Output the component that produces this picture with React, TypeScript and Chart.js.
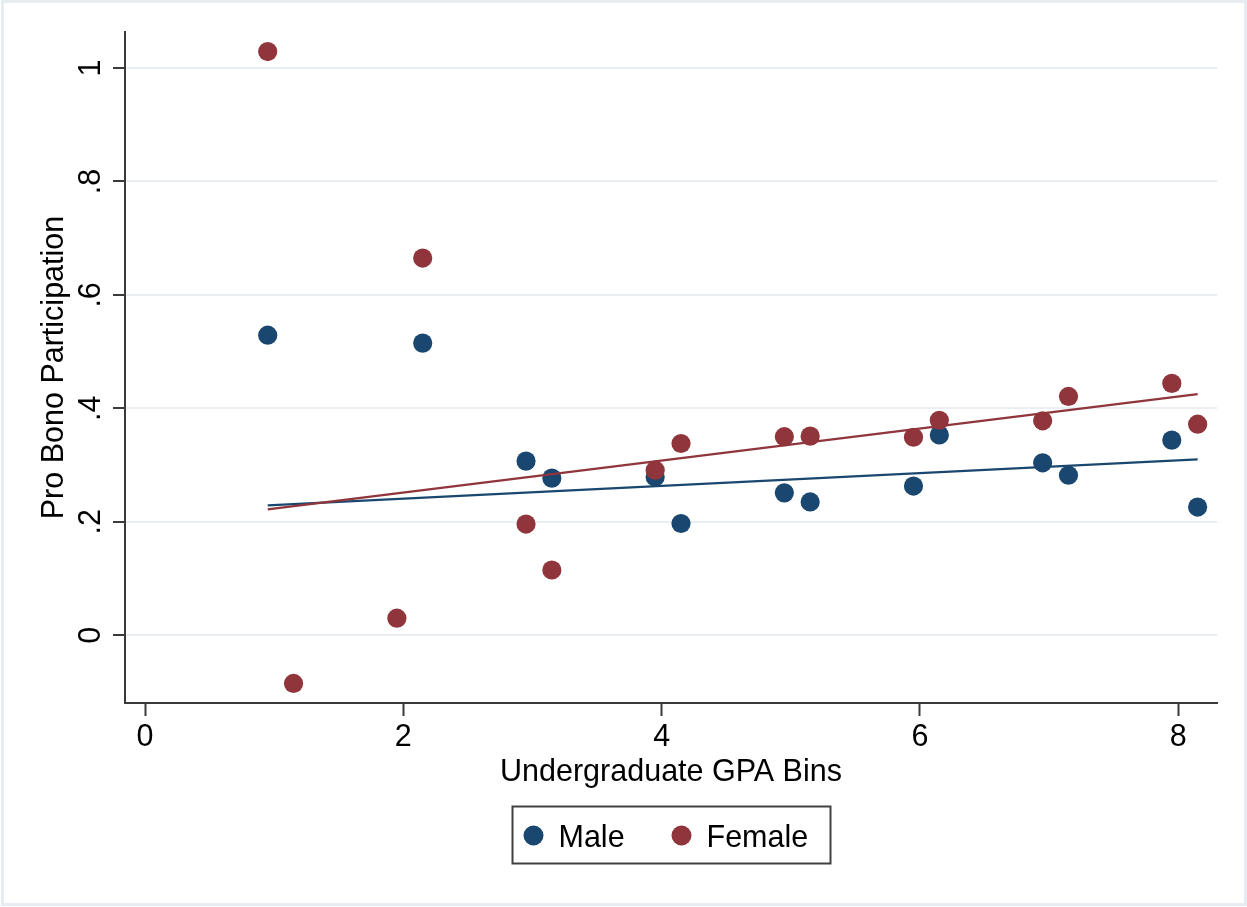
import React, { useEffect, useRef } from "react";
import { Chart, registerables } from "chart.js";

Chart.register(...registerables);

// ---- Data ----
const seriesLabels = ["Male", "Female"];
const maleX = [0.95, 2.15, 2.95, 3.15, 3.95, 4.15, 4.95, 5.15, 5.95, 6.15, 6.95, 7.15, 7.95, 8.15];
const maleY = [0.529, 0.515, 0.307, 0.277, 0.279, 0.197, 0.251, 0.235, 0.263, 0.353, 0.304, 0.282, 0.344, 0.226];
const femaleX = [0.95, 1.15, 1.95, 2.15, 2.95, 3.15, 3.95, 4.15, 4.95, 5.15, 5.95, 6.15, 6.95, 7.15, 7.95, 8.15];
const femaleY = [1.029, -0.085, 0.03, 0.665, 0.196, 0.115, 0.291, 0.338, 0.35, 0.351, 0.349, 0.379, 0.378, 0.421, 0.444, 0.372];
const maleFitX = [0.95, 8.15];
const maleFitY = [0.229, 0.31];
const femaleFitX = [0.95, 8.15];
const femaleFitY = [0.222, 0.425];

const xTickValues = [0, 2, 4, 6, 8];
const xTickLabels = ["0", "2", "4", "6", "8"];
const yTickValues = [0, 0.2, 0.4, 0.6, 0.8, 1];
const yTickLabels = ["0", ".2", ".4", ".6", ".8", "1"];

const xTitle = "Undergraduate GPA Bins";
const yTitle = "Pro Bono Participation";

const NAVY = "#1a476f";
const MAROON = "#90353b";
const AXIS = "#3a3a3a";
const GRID = "#e8eef2";
const FONT = "'Liberation Sans', Arial, Helvetica, sans-serif";
const FS = 30.5;

const toPts = (xs: number[], ys: number[]) => xs.map((x, i) => ({ x, y: ys[i] }));

const decorPlugin = {
  id: "decor",
  afterDraw(chart: any) {
    const ctx = chart.ctx;
    const area = chart.chartArea;
    const ys = chart.scales.y;
    ctx.save();
    ctx.fillStyle = "#000";
    ctx.font = `${FS}px ${FONT}`;
    // y tick labels (rotated, Stata style)
    yTickValues.forEach((v, i) => {
      const py = ys.getPixelForValue(v);
      ctx.save();
      ctx.translate(area.left - 25, py);
      ctx.rotate(-Math.PI / 2);
      ctx.textAlign = "center";
      ctx.textBaseline = "alphabetic";
      ctx.fillText(yTickLabels[i], 0, 0);
      ctx.restore();
    });
    // y title
    ctx.save();
    ctx.translate(area.left - 62, (area.top + area.bottom) / 2);
    ctx.rotate(-Math.PI / 2);
    ctx.textAlign = "center";
    ctx.textBaseline = "alphabetic";
    ctx.fillText(yTitle, 0, 0);
    ctx.restore();
    // x title
    const cx = (area.left + area.right) / 2;
    ctx.textAlign = "center";
    ctx.textBaseline = "alphabetic";
    ctx.fillText(xTitle, cx, area.bottom + 78);

    // legend box
    const boxW = 318;
    const boxH = 57;
    const bx = Math.round(cx - boxW / 2) + 0.5;
    const by = area.bottom + 103 + 0.5;
    ctx.strokeStyle = "#404040";
    ctx.lineWidth = 2;
    ctx.strokeRect(bx, by, boxW, boxH);
    const midY = by + 29;
    const items = [
      { label: seriesLabels[0], color: NAVY, dx: 21 },
      { label: seriesLabels[1], color: MAROON, dx: 169 },
    ];
    items.forEach((it) => {
      ctx.beginPath();
      ctx.fillStyle = it.color;
      ctx.arc(bx + it.dx, midY, 10, 0, Math.PI * 2);
      ctx.fill();
      ctx.fillStyle = "#000";
      ctx.textAlign = "left";
      ctx.textBaseline = "alphabetic";
      ctx.fillText(it.label, bx + it.dx + 25, midY + 11);
    });

    // outer frame
    ctx.strokeStyle = "#e6ecf1";
    ctx.lineWidth = 3;
    ctx.strokeRect(2.5, 1.5, chart.width - 4, chart.height - 4);
    ctx.restore();
  },
};

export default function App() {
  const ref = useRef<HTMLCanvasElement | null>(null);
  useEffect(() => {
    document.body.style.margin = "0";
    const canvas = ref.current;
    if (!canvas) return;
    const chart = new Chart(canvas, {
      type: "scatter",
      data: {
        datasets: [
          {
            type: "line",
            label: "Female fit",
            data: toPts(femaleFitX, femaleFitY),
            borderColor: MAROON,
            borderWidth: 2.3,
            pointRadius: 0,
            fill: false,
            order: 0,
          },
          {
            type: "line",
            label: "Male fit",
            data: toPts(maleFitX, maleFitY),
            borderColor: NAVY,
            borderWidth: 2.3,
            pointRadius: 0,
            fill: false,
            order: 1,
          },
          {
            label: seriesLabels[1],
            data: toPts(femaleX, femaleY),
            backgroundColor: MAROON,
            borderWidth: 0,
            pointRadius: 9.6,
            order: 2,
          },
          {
            label: seriesLabels[0],
            data: toPts(maleX, maleY),
            backgroundColor: NAVY,
            borderWidth: 0,
            pointRadius: 9.6,
            order: 3,
          },
        ],
      } as any,
      options: {
        animation: false,
        responsive: false,
        events: [],
        layout: { padding: { top: 32, right: 30, left: 0, bottom: 0 } },
        plugins: { legend: { display: false }, tooltip: { enabled: false } },
        scales: {
          x: {
            type: "linear",
            min: -0.155,
            max: 8.3,
            afterBuildTicks: (s: any) => {
              s.ticks = xTickValues.map((v) => ({ value: v }));
            },
            afterFit: (s: any) => {
              s.height = 204;
            },
            ticks: {
              callback: (_v: any, i: number) => xTickLabels[i],
              font: { family: FONT, size: FS },
              color: "#000",
              padding: 3,
              maxRotation: 0,
              autoSkip: false,
            },
            grid: {
              drawOnChartArea: false,
              drawTicks: true,
              tickLength: 13,
              tickColor: AXIS,
              tickWidth: 2,
            },
            border: { display: true, color: AXIS, width: 2 },
          },
          y: {
            type: "linear",
            min: -0.1195,
            max: 1.0635,
            afterBuildTicks: (s: any) => {
              s.ticks = yTickValues.map((v) => ({ value: v }));
            },
            afterFit: (s: any) => {
              s.width = 125;
            },
            ticks: { display: false },
            grid: {
              drawOnChartArea: true,
              color: GRID,
              lineWidth: 2,
              drawTicks: true,
              tickLength: 12,
              tickColor: AXIS,
              tickWidth: 2,
            },
            border: { display: true, color: AXIS, width: 2 },
          },
        },
      } as any,
      plugins: [decorPlugin],
    });
    return () => chart.destroy();
  }, []);
  return (
    <div style={{ width: 1247, height: 907, background: "#fff" }}>
      <canvas ref={ref} width={1247} height={907} style={{ display: "block" }} />
    </div>
  );
}
